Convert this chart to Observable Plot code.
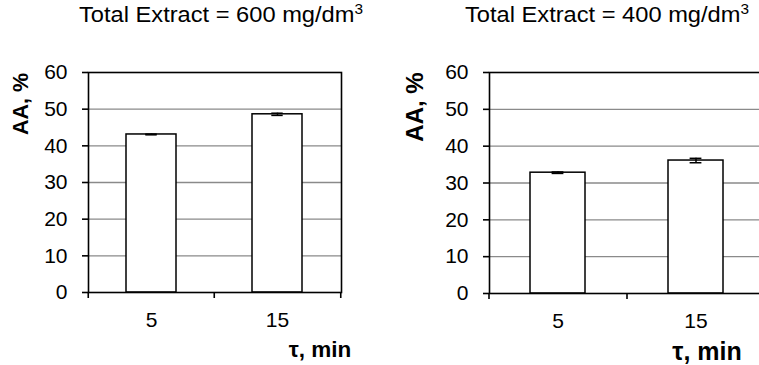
<!DOCTYPE html>
<html><head><meta charset="utf-8">
<script src="https://cdn.jsdelivr.net/npm/d3@7"></script>
<script src="https://cdn.jsdelivr.net/npm/@observablehq/plot@0.6"></script>
<style>
body{margin:0;background:#fff;}
#wrap{position:relative;width:759px;height:365px;overflow:hidden;background:#fff;font-family:"Liberation Sans",Arial,sans-serif;color:#000;}
.panel{position:absolute;top:0;}
.panel text{font-size:21px !important;font-family:"Liberation Sans",Arial,sans-serif !important;fill:#000;}
.lbl{position:absolute;white-space:nowrap;line-height:1;transform:translate(-50%,-50%);}
.title{font-size:21.5px;transform:translate(-50%,-50%) scaleX(1.1);}
.ax{font-weight:bold;font-size:22px;}
.ylab{transform:translate(-50%,-50%) rotate(-90deg);}
sup{font-size:0.65em;vertical-align:0;position:relative;top:-0.55em;}
</style></head>
<body><div id="wrap"></div>
<script>
const categories = ["5", "15"];
const aa600 = [43.1, 48.6];
const err600 = [0.1, 0.3];
const aa400 = [32.8, 36.1];
const err400 = [0.2, 0.6];
const yTicks = [0, 10, 20, 30, 40, 50, 60];
const title600 = "Total Extract = 600 mg/dm";
const title400 = "Total Extract = 400 mg/dm";
const yLabel = "AA, %";
const xLabel = "τ, min";

const wrap = document.getElementById("wrap");

function panel(values, errors, o) {
  const idx = values.map((_, i) => i);
  const plotW = o.width - o.ml - o.mr;
  const step = plotW / 2;
  const bw = step * 0.4;
  const capInset = (bw - 12) / 2;
  const last = categories[categories.length - 1];
  const svg = Plot.plot({
    width: o.width, height: 365,
    marginLeft: o.ml, marginRight: o.mr, marginTop: o.mt, marginBottom: o.mb,
    style: {fontFamily: "Liberation Sans, Arial, sans-serif", fontSize: "21px", color: "black", background: "white", overflow: "visible"},
    x: {type: "band", domain: categories, paddingInner: 0.6, paddingOuter: 0.3},
    y: {domain: [0, 60]},
    marks: [
      Plot.ruleY(yTicks.filter(t => t > 0 && t < 60), {stroke: "#8a8a8a", strokeWidth: 1.4}),
      Plot.barY(idx, {x: i => categories[i], y: i => values[i], fill: "white", stroke: "black", strokeWidth: 1.5}),
      Plot.ruleX(idx, {x: i => categories[i], y1: i => values[i] - errors[i], y2: i => values[i] + errors[i], stroke: "black", strokeWidth: 1.5}),
      Plot.tickY(idx, {x: i => categories[i], y: i => values[i] - errors[i], insetLeft: capInset, insetRight: capInset, stroke: "black", strokeWidth: 1.5}),
      Plot.tickY(idx, {x: i => categories[i], y: i => values[i] + errors[i], insetLeft: capInset, insetRight: capInset, stroke: "black", strokeWidth: 1.5}),
      Plot.frame({stroke: "black", strokeWidth: 1.6}),
      Plot.axisY({ticks: yTicks, tickSize: 6, tickPadding: 15, label: null, strokeWidth: 1.6}),
      Plot.axisX({tickSize: 0, tickPadding: 20, label: null}),
      Plot.ruleX(categories, {x: d => d, dx: -step / 2, y1: 0, y2: 0, insetBottom: -6, stroke: "black", strokeWidth: 1.6}),
      Plot.ruleX([last], {x: d => d, dx: step / 2, y1: 0, y2: 0, insetBottom: -6, stroke: "black", strokeWidth: 1.6})
    ]
  });
  svg.classList.add("panel");
  svg.style.left = o.left + "px";
  wrap.appendChild(svg);
}

function label(text, cls, x, y, sup, size) {
  const d = document.createElement("div");
  d.className = "lbl " + cls;
  d.style.left = x + "px";
  d.style.top = y + "px";
  if (size) d.style.fontSize = size + "px";
  d.textContent = text;
  if (sup) { const s = document.createElement("sup"); s.textContent = sup; d.appendChild(s); }
  wrap.appendChild(d);
}

panel(aa600, err600, {left: 0, width: 380, ml: 88, mr: 39, mt: 72, mb: 73});
panel(aa400, err400, {left: 380, width: 385, ml: 109, mr: 0, mt: 72, mb: 72});

label(title600, "title", 221, 16, "3");
label(title400, "title", 607, 16, "3");
label(yLabel, "ax ylab", 22, 104, null, 21.5);
label(yLabel, "ax ylab", 415, 107, null, 24);
label(xLabel, "ax", 320, 350, null, 22.5);
label(xLabel, "ax", 707, 351, null, 25);
</script></body></html>
